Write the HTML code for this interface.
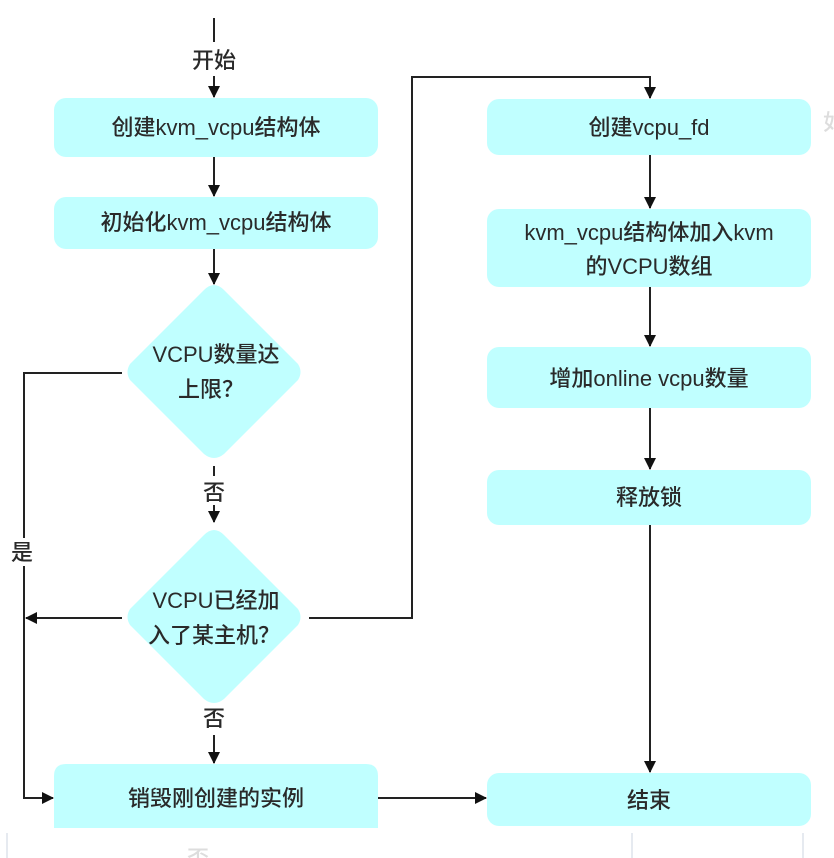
<!DOCTYPE html>
<html><head><meta charset="utf-8"><style>
html,body{margin:0;padding:0;background:#fff;}
svg{display:block;}
text{font-family:"Liberation Sans","Noto Sans CJK SC",sans-serif;font-size:22px;fill:#2a2a2a;font-weight:500;}
</style></head><body>
<svg width="834" height="858" viewBox="0 0 834 858" xmlns="http://www.w3.org/2000/svg">
<defs><marker id="a" markerWidth="12" markerHeight="12" refX="11" refY="6" orient="auto" markerUnits="userSpaceOnUse"><path d="M0,0 L12,6 L0,12 z" fill="#111"/></marker></defs>
<g fill="#c0ffff">
<rect x="54" y="98" width="324" height="59" rx="12"/>
<rect x="54" y="197" width="324" height="52" rx="12"/>
<path d="M214,285 Q219,285 224,290 L298,364 Q303,372 298,380 L224,454 Q214,462 204,454 L130,380 Q125,372 130,364 L204,290 Q209,285 214,285z"/>
<path d="M214,530 Q219,530 224,535 L298,609 Q303,617 298,625 L224,699 Q214,707 204,699 L130,625 Q125,617 130,609 L204,535 Q209,530 214,530z"/>
<path d="M66,764 H366 Q378,764 378,776 V828 H54 V776 Q54,764 66,764z"/>
<rect x="487" y="99" width="324" height="56" rx="12"/>
<rect x="487" y="209" width="324" height="78" rx="12"/>
<rect x="487" y="347" width="324" height="61" rx="12"/>
<rect x="487" y="470" width="324" height="55" rx="12"/>
<rect x="487" y="773" width="324" height="53" rx="12"/>
</g>
<g stroke="#222" stroke-width="2" fill="none">
<line x1="214" y1="18" x2="214" y2="42"/>
<line x1="214" y1="76" x2="214" y2="97" marker-end="url(#a)"/>
<line x1="214" y1="157" x2="214" y2="196" marker-end="url(#a)"/>
<line x1="214" y1="249" x2="214" y2="284" marker-end="url(#a)"/>
<line x1="214" y1="466" x2="214" y2="476"/>
<line x1="214" y1="505" x2="214" y2="522" marker-end="url(#a)"/>
<line x1="214" y1="735" x2="214" y2="763" marker-end="url(#a)"/>
<polyline points="122,373 24,373 24,538"/>
<polyline points="24,566 24,798 53,798" marker-end="url(#a)"/>
<line x1="122" y1="618" x2="26" y2="618" marker-end="url(#a)"/>
<polyline points="309,618 412,618 412,77 650,77 650,98" marker-end="url(#a)"/>
<line x1="650" y1="155" x2="650" y2="208" marker-end="url(#a)"/>
<line x1="650" y1="287" x2="650" y2="346" marker-end="url(#a)"/>
<line x1="650" y1="408" x2="650" y2="469" marker-end="url(#a)"/>
<line x1="650" y1="525" x2="650" y2="772" marker-end="url(#a)"/>
<line x1="378" y1="798" x2="486" y2="798" marker-end="url(#a)"/>
</g>
<g stroke="#dde3ea" stroke-width="1.5">
<line x1="7" y1="833" x2="7" y2="858"/><line x1="632" y1="833" x2="632" y2="858"/><line x1="803" y1="833" x2="803" y2="858"/>
</g>
<g text-anchor="middle">
<text x="214" y="68">开始</text>
<text x="216" y="135">创建kvm_vcpu结构体</text>
<text x="216" y="230">初始化kvm_vcpu结构体</text>
<text x="216" y="362">VCPU数量达</text>
<text x="211" y="397">上限？</text>
<text x="214" y="500">否</text>
<text x="216" y="608">VCPU已经加</text>
<text x="214" y="643">入了某主机？</text>
<text x="214" y="726">否</text>
<text x="22" y="560">是</text>
<text x="216" y="806">销毁刚创建的实例</text>
<text x="649" y="135">创建vcpu_fd</text>
<text x="649" y="240">kvm_vcpu结构体加入kvm</text>
<text x="649" y="274">的VCPU数组</text>
<text x="649" y="386">增加online vcpu数量</text>
<text x="649" y="505">释放锁</text>
<text x="649" y="808">结束</text>
<text x="198" y="866" style="fill:#ddd">否</text>
<text x="834" y="130" style="fill:#ddd">如</text>
</g>
</svg>
</body></html>
